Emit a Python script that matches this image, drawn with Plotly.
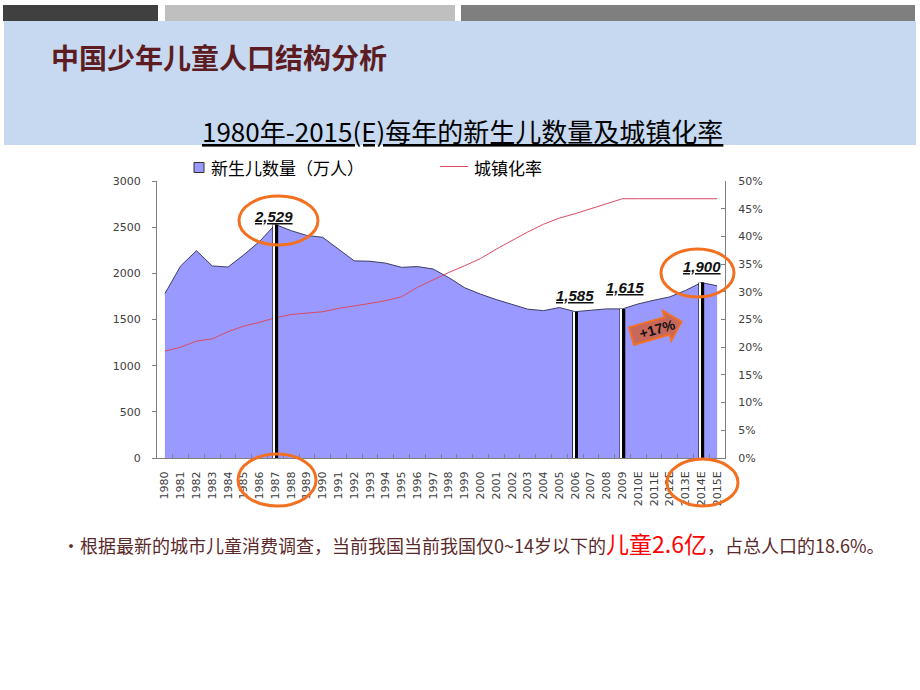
import plotly.graph_objects as go
import math

# ---------------- data ----------------
years = ["1980", "1981", "1982", "1983", "1984", "1985", "1986", "1987", "1988", "1989",
         "1990", "1991", "1992", "1993", "1994", "1995", "1996", "1997", "1998", "1999",
         "2000", "2001", "2002", "2003", "2004", "2005", "2006", "2007", "2008", "2009",
         "2010E", "2011E", "2012E", "2013E", "2014E", "2015E"]
births = [1780, 2080, 2245, 2080, 2068, 2200, 2345, 2529, 2462, 2410,
          2390, 2265, 2135, 2131, 2110, 2065, 2073, 2047, 1953, 1844,
          1775, 1716, 1662, 1612, 1596, 1630, 1585, 1598, 1615, 1615,
          1669, 1709, 1745, 1815, 1900, 1865]
urban = [0.193, 0.200, 0.211, 0.215, 0.228, 0.238, 0.245, 0.253, 0.259, 0.262,
         0.264, 0.270, 0.274, 0.279, 0.284, 0.291, 0.308, 0.322, 0.335, 0.347,
         0.360, 0.377, 0.393, 0.408, 0.422, 0.433, 0.441, 0.450, 0.458, 0.468,
         0.468, 0.468, 0.468, 0.468, 0.468, 0.468]
hl_years = ["1987", "2006", "2009", "2014E"]
hl_values = [2529, 1585, 1615, 1900]
hl_text = ["2,529", "1,585", "1,615", "1,900"]
growth_text = "+17%"

title = "中国少年儿童人口结构分析"
subtitle = "1980年-2015(E)每年的新生儿数量及城镇化率"
legend_births = "新生儿数量（万人）"
legend_urban = "城镇化率"
note_a = "•根据最新的城市儿童消费调查，当前我国当前我国仅0~14岁以下的"
note_b = "儿童2.6亿"
note_c = "，占总人口的18.6%。"

# ---------------- layout geometry (pixels) ----------------
W, H = 920, 690
PL, PR, PT, PB = 157, 725, 181, 458
def px(x):
    return (x - PL) / (PR - PL)
def py(y):
    return (PB - y) / (PB - PT)

CJK = "Noto Sans CJK SC"
ORANGE = "#f37021"

fig = go.Figure()

fig.add_trace(go.Scatter(
    x=years, y=births, mode="lines", fill="tozeroy",
    fillcolor="#9999ff", line=dict(color="#3c3c64", width=1),
    xaxis="x", yaxis="y", hoverinfo="skip"))

fig.add_trace(go.Scatter(
    x=years, y=urban, mode="lines",
    line=dict(color="#dc4a64", width=1),
    xaxis="x", yaxis="y2", hoverinfo="skip"))

# highlight bars (black with thin white stripe)
fig.add_trace(go.Bar(
    x=hl_years, y=hl_values, width=0.36, marker=dict(color="black", line=dict(width=0)),
    xaxis="x", yaxis="y3", hoverinfo="skip"))
fig.add_trace(go.Bar(
    x=hl_years, y=hl_values, width=0.08, offset=-0.13,
    marker=dict(color="white", line=dict(width=0)),
    xaxis="x", yaxis="y3", hoverinfo="skip"))

shapes = []
# header bars
for x0, x1, c in [(3, 158, "#404040"), (165, 455, "#bfbfbf"), (461, 915, "#7f7f7f")]:
    shapes.append(dict(type="rect", xref="paper", yref="paper",
                       x0=px(x0), x1=px(x1), y0=py(21), y1=py(5),
                       fillcolor=c, line=dict(width=0), layer="below"))
# blue band
shapes.append(dict(type="rect", xref="paper", yref="paper",
                   x0=px(4), x1=px(916), y0=py(145), y1=py(21),
                   fillcolor="#c6d9f0", line=dict(width=0), layer="below"))
# ellipses
for (x0, x1, y0, y1) in [(239, 318, 196, 245), (238, 316, 454, 506),
                         (661, 734, 249, 297), (667, 738, 459, 506)]:
    shapes.append(dict(type="circle", xref="paper", yref="paper",
                       x0=px(x0), x1=px(x1), y0=py(y1), y1=py(y0),
                       line=dict(color=ORANGE, width=3), fillcolor="rgba(0,0,0,0)"))
# growth arrow
a = math.radians(16)
tail = (631.5, 336.0)
d = (math.cos(a), -math.sin(a))
n = (math.sin(a), math.cos(a))
local = [(0, -9), (37, -9), (37, -15.5), (52, 0), (37, 15.5), (37, 9), (0, 9)]
pts = [(tail[0] + u * d[0] + v * n[0], tail[1] + u * d[1] + v * n[1]) for u, v in local]
path = "M " + " L ".join(f"{px(x):.5f},{py(y):.5f}" for x, y in pts) + " Z"
shapes.append(dict(type="path", xref="paper", yref="paper", path=path,
                   fillcolor="#c8675c", line=dict(color=ORANGE, width=2)))
# legend marker
shapes.append(dict(type="rect", xref="paper", yref="paper",
                   x0=px(194), x1=px(204), y0=py(172.5), y1=py(162.5),
                   fillcolor="#9999ff", line=dict(color="#333333", width=1)))
shapes.append(dict(type="line", xref="paper", yref="paper",
                   x0=px(440), x1=px(468), y0=py(166.5), y1=py(166.5),
                   line=dict(color="#dc4a64", width=1)))

annotations = []
annotations.append(dict(xref="paper", yref="paper", x=px(49), y=py(57),
                        xanchor="left", yanchor="middle", showarrow=False,
                        text=f"<b>{title}</b>",
                        font=dict(family=CJK, size=28, color="#5c1c22")))
annotations.append(dict(xref="paper", yref="paper", x=px(462), y=py(130),
                        xanchor="center", yanchor="middle", showarrow=False,
                        text=f"<u>{subtitle}</u>",
                        font=dict(family=CJK, size=26, color="#000000")))
annotations.append(dict(xref="paper", yref="paper", x=px(209), y=py(167),
                        xanchor="left", yanchor="middle", showarrow=False,
                        text=legend_births,
                        font=dict(family=CJK, size=17, color="#000000")))
annotations.append(dict(xref="paper", yref="paper", x=px(472), y=py(167),
                        xanchor="left", yanchor="middle", showarrow=False,
                        text=legend_urban,
                        font=dict(family=CJK, size=17, color="#000000")))
yshifts = [8, 16, 21, 16]
xshifts = [-2, 0, 3, 1]
for xv, yv, t, ys, xs in zip(hl_years, hl_values, hl_text, yshifts, xshifts):
    annotations.append(dict(x=years.index(xv), y=yv, xref="x", yref="y", showarrow=False,
                            xanchor="center", yanchor="middle", yshift=ys, xshift=xs,
                            text=f"<b><i><u>{t}</u></i></b>",
                            font=dict(family="Liberation Sans", size=15, color="#111111")))
annotations.append(dict(xref="paper", yref="paper", x=px(657), y=py(329),
                        xanchor="center", yanchor="middle", showarrow=False,
                        text=f"<b>{growth_text}</b>", textangle=-16,
                        font=dict(family="Liberation Sans", size=14, color="#111111")))
annotations.append(dict(xref="paper", yref="paper", x=px(60), y=py(543),
                        xanchor="left", yanchor="middle", showarrow=False,
                        text=(f"{note_a}<span style='color:#ff0000;font-size:23px'>{note_b}</span>"
                              f"{note_c}"),
                        font=dict(family=CJK, size=18, color="#5a2a2a")))

tickfont = dict(family="DejaVu Sans", size=11, color="#404040")
fig.update_layout(
    width=W, height=H,
    margin=dict(l=PL, r=W - PR, t=PT, b=H - PB, pad=0),
    paper_bgcolor="white", plot_bgcolor="white",
    showlegend=False, barmode="overlay",
    xaxis=dict(type="category", range=[-0.5, len(years) - 0.5],
               tickson="boundaries", ticks="inside", ticklen=4, tickcolor="#808080",
               tickangle=-90, tickfont=tickfont, ticklabelstandoff=8,
               showline=True, linecolor="#808080", linewidth=1,
               showgrid=False, zeroline=False, fixedrange=True),
    yaxis=dict(range=[0, 3000], dtick=500, ticks="outside", ticklen=4,
               tickcolor="#808080", tickfont=tickfont, ticklabelstandoff=9,
               showline=True, linecolor="#808080", linewidth=1,
               showgrid=False, zeroline=False),
    yaxis2=dict(range=[0, 0.5], dtick=0.05, tickformat=".0%", overlaying="y",
                side="right", anchor="x", ticks="inside", ticklen=4,
                tickcolor="#808080", tickfont=tickfont, ticklabelstandoff=10,
                showline=True, linecolor="#808080", linewidth=1,
                showgrid=False, zeroline=False),
    yaxis3=dict(range=[0, 3000], overlaying="y", anchor="x", visible=False,
                showgrid=False, zeroline=False),
    shapes=shapes, annotations=annotations,
)

fig.write_html("out.html")
